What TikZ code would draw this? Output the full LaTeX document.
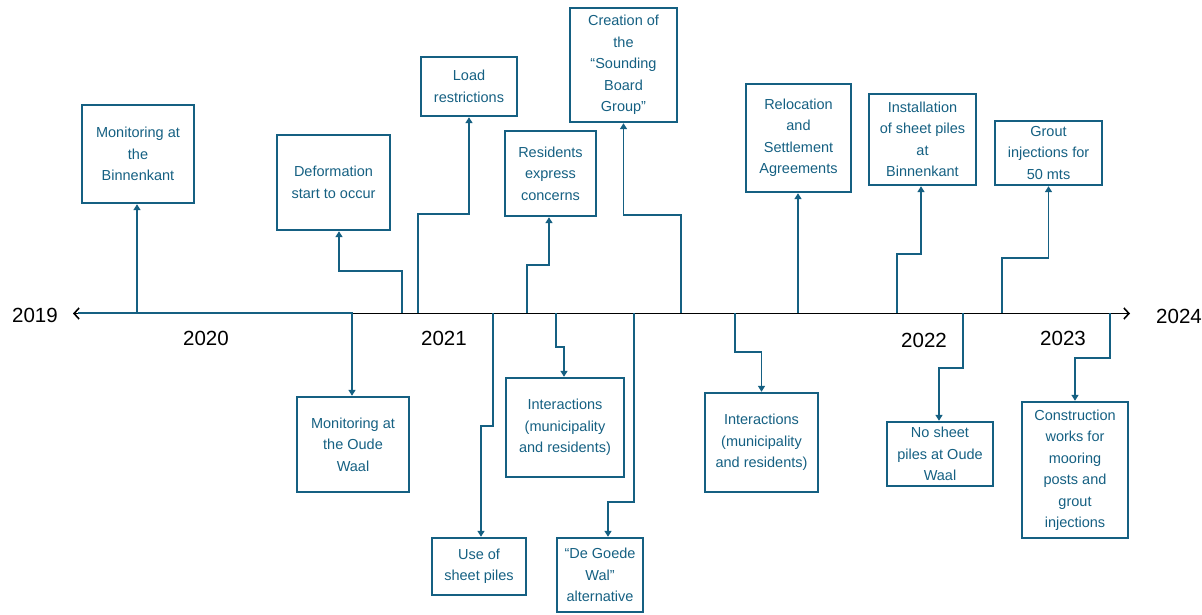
\documentclass[tikz,border=0pt]{standalone}
\usepackage{fontspec}
\setmainfont{Liberation Sans}
\usetikzlibrary{arrows.meta}
\definecolor{teal1}{HTML}{156082}
\tikzset{
  evt/.style={draw=teal1, line width=2.4pt, text=teal1, align=center, inner sep=0pt,
    font=\fontsize{14.5}{21.5}\selectfont},
  conn/.style={draw=teal1, line width=1.9pt, -{Triangle[width=7pt,length=6pt]}},
  yr/.style={font=\fontsize{20.5}{24}\selectfont, text=black},
  axisline/.style={line width=1.8pt, black, {Straight Barb[length=5pt,width=11pt,line width=1.6pt]}-{Straight Barb[length=5pt,width=11pt,line width=1.6pt]}}
}
\begin{document}
\begin{tikzpicture}[x=1pt,y=-1pt]
\useasboundingbox (0,0) rectangle (1202,615);

% axis
\coordinate (L) at (73,313.5);
\coordinate (R) at (1130,313.5);
\draw[axisline] (L) -- (R);
\coordinate (Lt) at (78,313);
\coordinate (Mt) at (353,313);
\draw[teal1, line width=1.8pt] (Lt) -- (Mt);

% years
\node[yr] (y19) at (35,315) {2019};
\node[yr] (y20) at (206,338) {2020};
\node[yr] (y21) at (444,338) {2021};
\node[yr] (y22) at (924,340) {2022};
\node[yr] (y23) at (1063,338) {2023};
\node[yr] (y24) at (1179,316) {2024};

% upper boxes
\node[evt, minimum width=112, minimum height=98] (b1) at (138,154) {Monitoring at\\the\\Binnenkant};
\node[evt, minimum width=113, minimum height=95] (b2) at (333.5,182.5) {Deformation\\start to occur};
\node[evt, minimum width=96, minimum height=59] (b3) at (469,86.5) {Load\\restrictions};
\node[evt, minimum width=91, minimum height=85] (b4) at (550.5,173.5) {Residents\\express\\concerns};
\node[evt, minimum width=107, minimum height=114] (b5) at (623.5,65) {Creation of\\the\\“Sounding\\Board\\Group”};
\node[evt, minimum width=105, minimum height=108] (b6) at (798.5,138) {Relocation\\and\\Settlement\\Agreements};
\node[evt, minimum width=107, minimum height=91] (b7) at (922.5,139.5) {Installation\\of sheet piles\\at\\Binnenkant};
\node[evt, minimum width=107, minimum height=64] (b8) at (1048.5,153) {Grout\\injections for\\50 mts};

% lower boxes
\node[evt, minimum width=112, minimum height=95] (b9) at (353,444.5) {Monitoring at\\the Oude\\Waal};
\node[evt, minimum width=94, minimum height=57] (b10) at (479,566.5) {Use of\\sheet piles};
\node[evt, minimum width=118, minimum height=99] (b11) at (565,427.5) {Interactions\\(municipality\\and residents)};
\node[evt, minimum width=86, minimum height=74] (b12) at (600,575) {“De Goede\\Wal”\\alternative};
\node[evt, minimum width=113, minimum height=99] (b13) at (761.5,442.5) {Interactions\\(municipality\\and residents)};
\node[evt, minimum width=106, minimum height=64] (b14) at (940,454) {No sheet\\piles at Oude\\Waal};
\node[evt, minimum width=106, minimum height=136] (b15) at (1075,470) {Construction\\works for\\mooring\\posts and\\grout\\injections};

% axis attachment points
\coordinate (a1) at (137,313);
\coordinate (a2) at (402,313);
\coordinate (a3) at (418,313);
\coordinate (a4) at (527,313);
\coordinate (a5) at (681,313);
\coordinate (a6) at (798,313);
\coordinate (a7) at (897,313);
\coordinate (a8) at (1002,313);
\coordinate (a9) at (352,313);
\coordinate (a10) at (493,313);
\coordinate (a11) at (556,313);
\coordinate (a12) at (634,313);
\coordinate (a13) at (735,313);
\coordinate (a14) at (963,313);
\coordinate (a15) at (1110,313);

% connectors up
\draw[conn] (a1) -- (a1 |- b1.south);
\draw[conn] (a2) -- ++(0,-42) -| ([xshift=5.5pt]b2.south);
\draw[conn] (a3) -- ++(0,-99) -| (b3.south);
\draw[conn] (a4) -- ++(0,-48) -| ([xshift=-1.5pt]b4.south);
\draw[conn] (a5) -- ++(0,-98) -| (b5.south);
\draw[conn] (a6) -- (a6 |- b6.south);
\draw[conn] (a7) -- ++(0,-59) -| ([xshift=-1.5pt]b7.south);
\draw[conn] (a8) -- ++(0,-55) -| (b8.south);

% connectors down
\draw[conn] (a9) -- (a9 |- b9.north);
\draw[conn] (a10) -- ++(0,113) -| ([xshift=2pt]b10.north);
\draw[conn] (a11) -- ++(0,34) -| ([xshift=-1pt]b11.north);
\draw[conn] (a12) -- ++(0,189) -| ([xshift=8pt]b12.north);
\draw[conn] (a13) -- ++(0,39) -| (b13.north);
\draw[conn] (a14) -- ++(0,55) -| ([xshift=-1pt]b14.north);
\draw[conn] (a15) -- ++(0,45) -| (b15.north);
\end{tikzpicture}
\end{document}
